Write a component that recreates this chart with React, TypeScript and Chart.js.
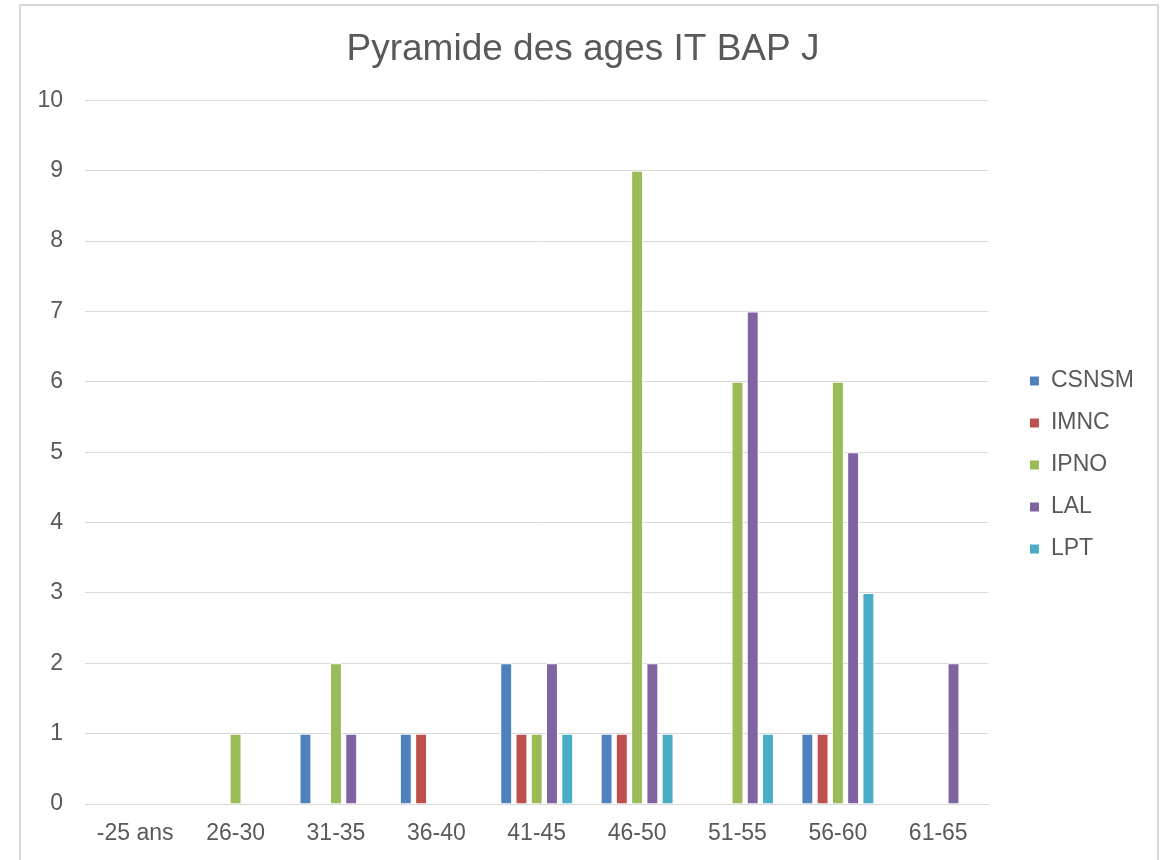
import React, { useEffect, useRef } from "react";
import { Chart, registerables } from "chart.js";

Chart.register(...registerables);

const categories = ["-25 ans", "26-30", "31-35", "36-40", "41-45", "46-50", "51-55", "56-60", "61-65"];
const seriesNames = ["CSNSM", "IMNC", "IPNO", "LAL", "LPT"];
const csnsm = [0, 0, 1, 1, 2, 1, 0, 1, 0];
const imnc = [0, 0, 0, 1, 1, 1, 0, 1, 0];
const ipno = [0, 1, 2, 0, 1, 9, 6, 6, 0];
const lal = [0, 0, 1, 0, 2, 2, 7, 5, 2];
const lpt = [0, 0, 0, 0, 1, 1, 1, 3, 0];
const seriesColors = ["#4F81BD", "#C0504D", "#9BBB59", "#8064A2", "#4BACC6"];
const yTicks = [0, 1, 2, 3, 4, 5, 6, 7, 8, 9, 10];

const FONT = "Liberation Sans, Arial, sans-serif";

export default function App() {
  const ref = useRef<HTMLCanvasElement | null>(null);
  useEffect(() => {
    if (!ref.current) return;
    const values = [csnsm, imnc, ipno, lal, lpt];
    const chart = new Chart(ref.current, {
      type: "bar",
      data: {
        labels: categories,
        datasets: seriesNames.map((n, i) => ({
          label: n,
          data: values[i],
          backgroundColor: seriesColors[i],
          borderColor: "#ffffff",
          borderWidth: 1,
          categoryPercentage: 0.76,
          barPercentage: 0.78,
        })),
      },
      options: {
        responsive: false,
        animation: false,
        layout: { padding: { left: 22, right: 29, top: 0, bottom: 0 } },
        plugins: {
          title: {
            display: true,
            text: "Pyramide des ages IT BAP J",
            color: "#595959",
            font: { family: FONT, size: 37, weight: "normal" },
            padding: { top: 28, bottom: 28 },
          },
          legend: {
            position: "right",
            title: {
              display: true,
              text: " ",
              font: { family: FONT, size: 10 },
              padding: { top: 0, bottom: 58 },
            },
            labels: {
              color: "#595959",
              font: { family: FONT, size: 23 },
              boxWidth: 10,
              boxHeight: 10,
              padding: 19,
            },
          },
          tooltip: { enabled: false },
        },
        scales: {
          x: {
            grid: { display: false, drawTicks: false },
            border: { display: true, color: "#d9d9d9", width: 1 },
            ticks: {
              color: "#595959",
              font: { family: FONT, size: 23 },
              padding: 16,
              maxRotation: 0,
              autoSkip: false,
            },
            afterFit: (s: any) => {
              s.height = 56;
            },
          },
          y: {
            min: 0,
            max: 10,
            afterBuildTicks: (s: any) => {
              s.ticks = yTicks.map((v) => ({ value: v }));
            },
            grid: { color: "#d9d9d9", drawTicks: false, lineWidth: 1 },
            border: { display: false },
            ticks: {
              color: "#595959",
              font: { family: FONT, size: 23 },
              padding: 22,
            },
            afterFit: (s: any) => {
              s.width = 63;
            },
          },
          gap: {
            type: "linear",
            position: "right",
            display: true,
            grid: { display: false, drawTicks: false },
            border: { display: false },
            ticks: { display: false },
            afterFit: (s: any) => {
              s.width = 22;
            },
          },
        },
      },
    });
    return () => chart.destroy();
  }, []);
  return (
    <>
      <canvas
        ref={ref}
        width={1173}
        height={860}
        style={{ position: "absolute", left: 0, top: 0, width: 1173, height: 860 }}
      />
      <div
        style={{
          position: "absolute",
          left: 19,
          top: 4,
          width: 1136,
          height: 856,
          border: "2px solid #d9d9d9",
          borderBottom: "none",
          boxSizing: "content-box",
          pointerEvents: "none",
        }}
      />
    </>
  );
}
